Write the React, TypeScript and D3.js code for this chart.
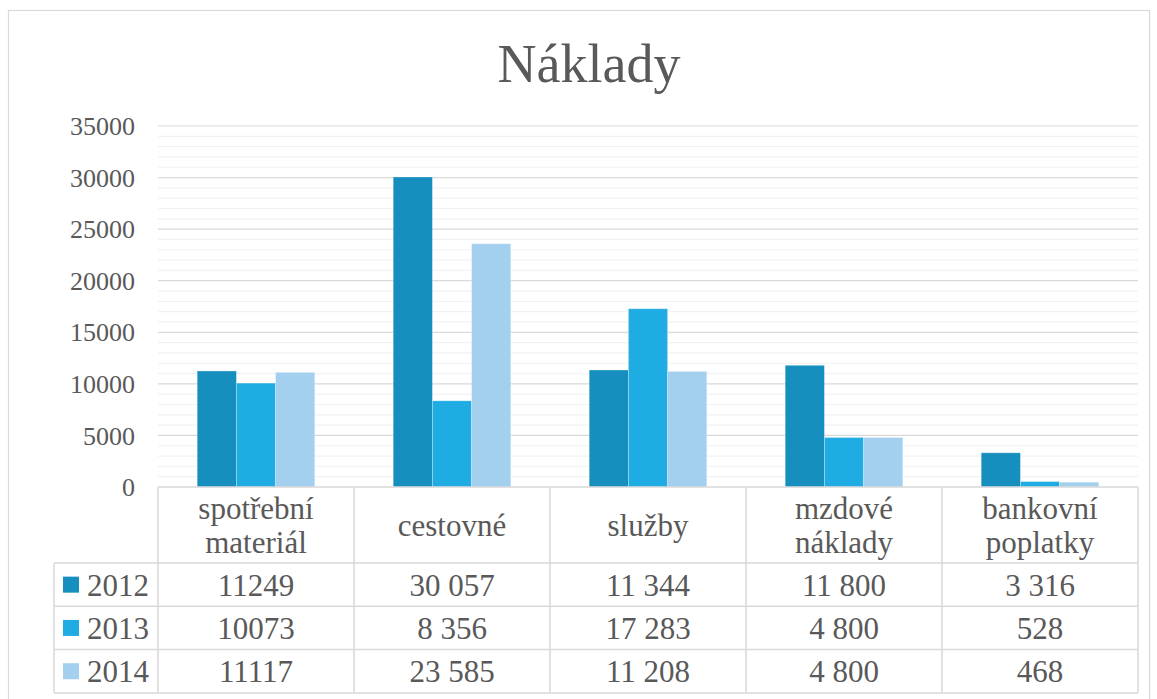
import React from "react";
import * as d3 from "d3";

const categories = [["spotřební", "materiál"], ["cestovné"], ["služby"], ["mzdové", "náklady"], ["bankovní", "poplatky"]];
const seriesNames = ["2012", "2013", "2014"];
const values2012 = [11249, 30057, 11344, 11800, 3316];
const values2013 = [10073, 8356, 17283, 4800, 528];
const values2014 = [11117, 23585, 11208, 4800, 468];
const labels2012 = ["11249", "30 057", "11 344", "11 800", "3 316"];
const labels2013 = ["10073", "8 356", "17 283", "4 800", "528"];
const labels2014 = ["11117", "23 585", "11 208", "4 800", "468"];
const yTicks = [0, 5000, 10000, 15000, 20000, 25000, 30000, 35000];
const colors = ["#168EBE", "#1EACE3", "#A2D0EE"];

const W = 1157, H = 699;
const FONT = "'Liberation Serif', serif";
const TXT = "#595959";

export default function App() {
  const series = [values2012, values2013, values2014];
  const labels = [labels2012, labels2013, labels2014];
  const x = d3.scaleBand<number>().domain(d3.range(categories.length)).range([158, 1138]).padding(0);
  const bw = x.bandwidth();
  const xs = d3.scaleBand<number>().domain(d3.range(seriesNames.length)).range([bw * 0.2, bw * 0.8]).padding(0);
  const y = d3.scaleLinear().domain([0, 35000]).range([487, 126]);
  const minor = d3.range(0, 35001, 1000).filter((v) => v % 5000 !== 0);
  const rowTop = 563, rowH = 43.3;
  const left = 54, plotL = 158, plotR = 1138;
  const tableBottom = rowTop + rowH * 3;

  return (
    <svg width={W} height={H} style={{ position: "absolute", left: 0, top: 0, background: "#fff" }} fontFamily={FONT}>
      <rect x={8.5} y={10.5} width={1141} height={700} fill="#fff" stroke="#d9d9d9" strokeWidth={1.2} />
      <text x={589} y={82} textAnchor="middle" fontSize={54} fill={TXT}>Náklady</text>
      {minor.map((v) => (
        <line key={"m" + v} x1={plotL} x2={plotR} y1={y(v)} y2={y(v)} stroke="#f2f2f2" strokeWidth={1.2} />
      ))}
      {yTicks.filter((v) => v > 0).map((v) => (
        <line key={"g" + v} x1={plotL} x2={plotR} y1={y(v)} y2={y(v)} stroke="#d9d9d9" strokeWidth={1.2} />
      ))}
      {yTicks.map((v) => (
        <text key={"t" + v} x={135} y={y(v)} dy="0.35em" textAnchor="end" fontSize={26} fill={TXT}>{v}</text>
      ))}
      {series.map((vals, si) =>
        vals.map((v, ci) => (
          <rect key={si + "-" + ci} x={(x(ci) as number) + (xs(si) as number)} y={y(v)} width={xs.bandwidth()} height={y(0) - y(v)}
            fill={colors[si]} stroke="#ffffff" strokeOpacity={0.35} strokeWidth={0.8} />
        ))
      )}
      {/* table lines */}
      <g stroke="#d9d9d9" strokeWidth={1.5} fill="none">
        <line x1={plotL} x2={plotR} y1={487} y2={487} />
        {d3.range(categories.length + 1).map((i) => {
          const xx = i === categories.length ? plotR : (x(i) as number);
          return <line key={"v" + i} x1={xx} x2={xx} y1={487} y2={tableBottom} />;
        })}
        <line x1={left} x2={left} y1={rowTop} y2={tableBottom} />
        {d3.range(4).map((r) => (
          <line key={"h" + r} x1={left} x2={plotR} y1={rowTop + r * rowH} y2={rowTop + r * rowH} />
        ))}
      </g>
      {categories.map((lines, ci) => {
        const cx = (x(ci) as number) + bw / 2;
        const lh = 34;
        const y0 = 525 - ((lines.length - 1) * lh) / 2;
        return (
          <text key={"c" + ci} textAnchor="middle" fontSize={31} fill={TXT}>
            {lines.map((l, li) => (
              <tspan key={li} x={cx} y={y0 + li * lh} dy="0.35em">{l}</tspan>
            ))}
          </text>
        );
      })}
      {seriesNames.map((name, si) => {
        const cy = rowTop + si * rowH + rowH / 2;
        return (
          <g key={"r" + name}>
            <rect x={63} y={cy - 8} width={16} height={16} fill={colors[si]} />
            <text x={87} y={cy} dy="0.35em" fontSize={31} fill={TXT}>{name}</text>
            {labels[si].map((lab, ci) => (
              <text key={ci} x={(x(ci) as number) + bw / 2} y={cy} dy="0.35em" textAnchor="middle" fontSize={31} fill={TXT}>{lab}</text>
            ))}
          </g>
        );
      })}
    </svg>
  );
}
